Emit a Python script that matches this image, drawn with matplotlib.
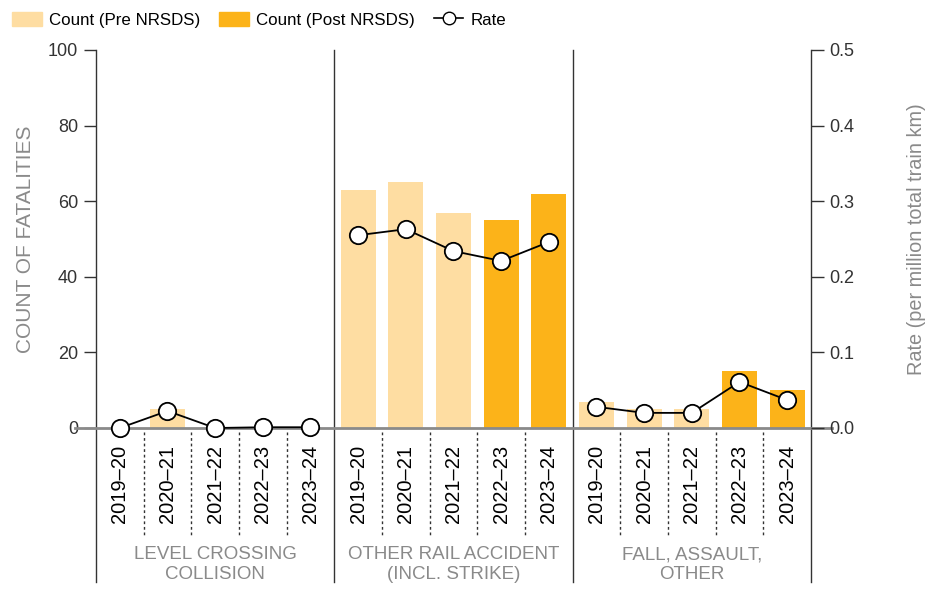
import numpy as np
import matplotlib.pyplot as plt
from matplotlib.patches import Patch
from matplotlib.lines import Line2D

plt.rcParams['font.family'] = ['Liberation Sans', 'DejaVu Sans']

years = ["2019–20", "2020–21", "2021–22", "2022–23", "2023–24"]
groups = ["LEVEL CROSSING\nCOLLISION", "OTHER RAIL ACCIDENT\n(INCL. STRIKE)", "FALL, ASSAULT,\nOTHER"]
post_nrsds = [False, False, False, True, True]

count_level = [0, 5, 0, 0, 0]
count_other = [63, 65, 57, 55, 62]
count_fall = [7, 5, 5, 15, 10]

rate_level = [0.0, 0.0225, 0.0, 0.001, 0.001]
rate_other = [0.255, 0.263, 0.234, 0.221, 0.246]
rate_fall = [0.028, 0.020, 0.020, 0.061, 0.037]

counts = [count_level, count_other, count_fall]
rates = [rate_level, rate_other, rate_fall]

PRE = "#FEDDA2"
POST = "#FCB319"
GREY = "#8a8a8a"
DARK = "#333333"

fig = plt.figure(figsize=(9.28, 5.89), dpi=100)
ax = fig.add_axes([96/928, 1 - 428/589, (811 - 96)/928, (428 - 50)/589])
ax2 = ax.twinx()

n = len(years)
xlab = []
xpos = []
for g in range(len(groups)):
    x = np.arange(n) + g*n
    cols = [POST if p else PRE for p in post_nrsds]
    ax.bar(x, counts[g], width=0.74, color=cols, zorder=2)
    ax2.plot(x, rates[g], color="black", lw=1.3, marker="o", ms=12.5,
             mfc="white", mec="black", mew=1.3, zorder=5, clip_on=False)
    xpos += list(x)
    xlab += years

ax.set_xlim(-0.5, len(groups)*n - 0.5)
ax.set_ylim(0, 100)
ax2.set_ylim(0, 0.5)
ax.set_zorder(ax2.get_zorder() - 1)
ax2.patch.set_visible(False)
ax.patch.set_visible(False)

ax.set_xticks(xpos)
ax.set_xticklabels(xlab, rotation=90, fontsize=14.5, color="black")
ax.tick_params(axis="x", length=0, pad=12)
ax.set_yticks(np.arange(0, 101, 20))
ax.tick_params(axis="y", length=9, width=1, color=DARK, labelsize=13, labelcolor=DARK, pad=4)
ax2.set_yticks(np.arange(0, 0.51, 0.1))
ax2.set_yticklabels([f"{v:.1f}" for v in np.arange(0, 0.51, 0.1)])
ax2.tick_params(axis="y", length=9, width=1, color=DARK, labelsize=13, labelcolor=DARK, pad=4)

for a in (ax, ax2):
    for s in a.spines.values():
        s.set_visible(False)

# spines and group separators extending below the axes
for xa in [0, 1/3, 2/3, 1]:
    ax.plot([xa, xa], [1, -0.407], transform=ax.transAxes, color=DARK, lw=1, clip_on=False)
# dotted separators between years
for g in range(len(groups)):
    for i in range(1, n):
        xd = g*n + i - 0.5
        ax.plot([xd, xd], [-1, -28.3], color=DARK, lw=1, ls=(0, (2, 2)), clip_on=False)
# zero line
ax.plot([-0.03, 1.03], [0, 0], transform=ax.transAxes, color=GREY, lw=2, clip_on=False, zorder=3)

for g, lab in enumerate(groups):
    ax.text((g + 0.5)/3, -0.362, lab, transform=ax.transAxes, ha="center", va="center",
            fontsize=13.5, color=GREY, linespacing=1.25)

ax.set_ylabel("COUNT OF FATALITIES", fontsize=15, color=GREY, labelpad=9)
ax2.set_ylabel("Rate (per million total train km)", fontsize=14.3, color=GREY, labelpad=38)

handles = [Patch(color=PRE, label="Count (Pre NRSDS)"),
           Patch(color=POST, label="Count (Post NRSDS)"),
           Line2D([], [], color="black", lw=1.2, marker="o", ms=9, mfc="white",
                  mec="black", label="Rate")]
fig.legend(handles=handles, loc="upper left", bbox_to_anchor=(0.0, 1.0), ncol=3,
           frameon=False, fontsize=12.2, handlelength=1.75, handleheight=0.9,
           columnspacing=1.1, handletextpad=0.45, borderaxespad=0.3)

fig.savefig("out.png", dpi=100)
